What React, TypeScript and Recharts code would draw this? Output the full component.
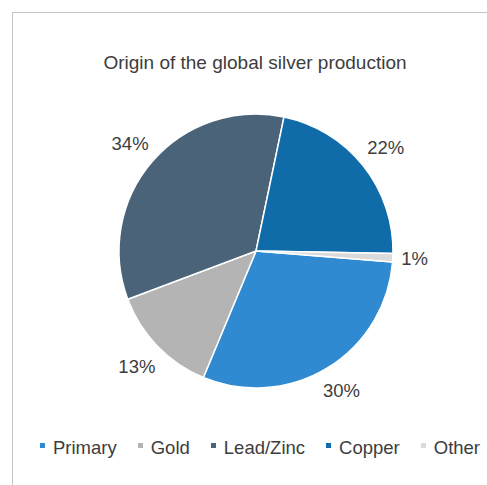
import { Legend, Pie, PieChart } from 'recharts';

const sources = ['Primary', 'Gold', 'Lead/Zinc', 'Copper', 'Other'];
const shares = [30, 13, 34, 22, 1];
const colors = ['#2F8AD1', '#B4B4B4', '#4A6379', '#106BA9', '#DADADA'];

const data = sources.map((name, i) => ({ name, value: shares[i], fill: colors[i] }));

const FONT = '"Liberation Sans", Arial, Helvetica, sans-serif';
const TEXT = '#3d3d3d';
const RADIAN = Math.PI / 180;
const LABEL_SIZE = 18.5;

// "outside end" label: the text box sits a fixed gap outside the rim
function renderLabel(props: any) {
    const { cx, cy, midAngle, outerRadius, value } = props;
    const text = `${value}%`;
    const cos = Math.cos(-midAngle * RADIAN);
    const sin = Math.sin(-midAngle * RADIAN);
    const halfW = (text.length * LABEL_SIZE * 0.56) / 2;
    const halfH = LABEL_SIZE / 2;
    const r = outerRadius + 11 + halfW * Math.abs(cos) + halfH * Math.abs(sin);
    return (
        <text
            x={cx + r * cos}
            y={cy + r * sin}
            textAnchor="middle"
            dominantBaseline="central"
            fill={TEXT}
            fontSize={LABEL_SIZE}
            fontFamily={FONT}
        >
            {text}
        </text>
    );
}

// legend keeps the source order (recharts would sort it by name)
function renderLegend() {
    return (
        <div style={{ display: 'flex', gap: 21, fontFamily: FONT, fontSize: 18.5, color: TEXT }}>
            {sources.map((name, i) => (
                <div key={name} style={{ display: 'flex', alignItems: 'center' }}>
                    <span
                        style={{
                            width: 5,
                            height: 5,
                            background: colors[i],
                            marginRight: 8,
                            marginTop: -5,
                        }}
                    />
                    <span>{name}</span>
                </div>
            ))}
        </div>
    );
}

export default function App() {
    return (
        <div style={{ position: 'absolute', left: 0, top: 0, width: 487, height: 485, background: '#fff' }}>
            <div
                style={{
                    position: 'absolute',
                    left: 12,
                    top: 12,
                    width: 480,
                    height: 480,
                    borderTop: '1px solid #c4c4c4',
                    borderLeft: '1px solid #c4c4c4',
                }}
            />
            <div
                style={{
                    position: 'absolute',
                    left: 0,
                    width: 510,
                    top: 52,
                    textAlign: 'center',
                    fontFamily: FONT,
                    fontSize: 19,
                    color: TEXT,
                }}
            >
                Origin of the global silver production
            </div>
            <PieChart
                width={487}
                height={485}
                margin={{ top: 0, right: 0, bottom: 0, left: 0 }}
                style={{ position: 'absolute', left: 0, top: 0 }}
            >
                <Pie
                    data={data}
                    dataKey="value"
                    nameKey="name"
                    cx={256}
                    cy={251}
                    outerRadius={137}
                    startAngle={-4.6}
                    endAngle={-364.6}
                    stroke="#ffffff"
                    strokeWidth={1.5}
                    label={renderLabel}
                    labelLine={false}
                    isAnimationActive={false}
                />
                <Legend
                    content={renderLegend}
                    wrapperStyle={{ position: 'absolute', left: 40, top: 437, width: 460 }}
                />
            </PieChart>
        </div>
    );
}
